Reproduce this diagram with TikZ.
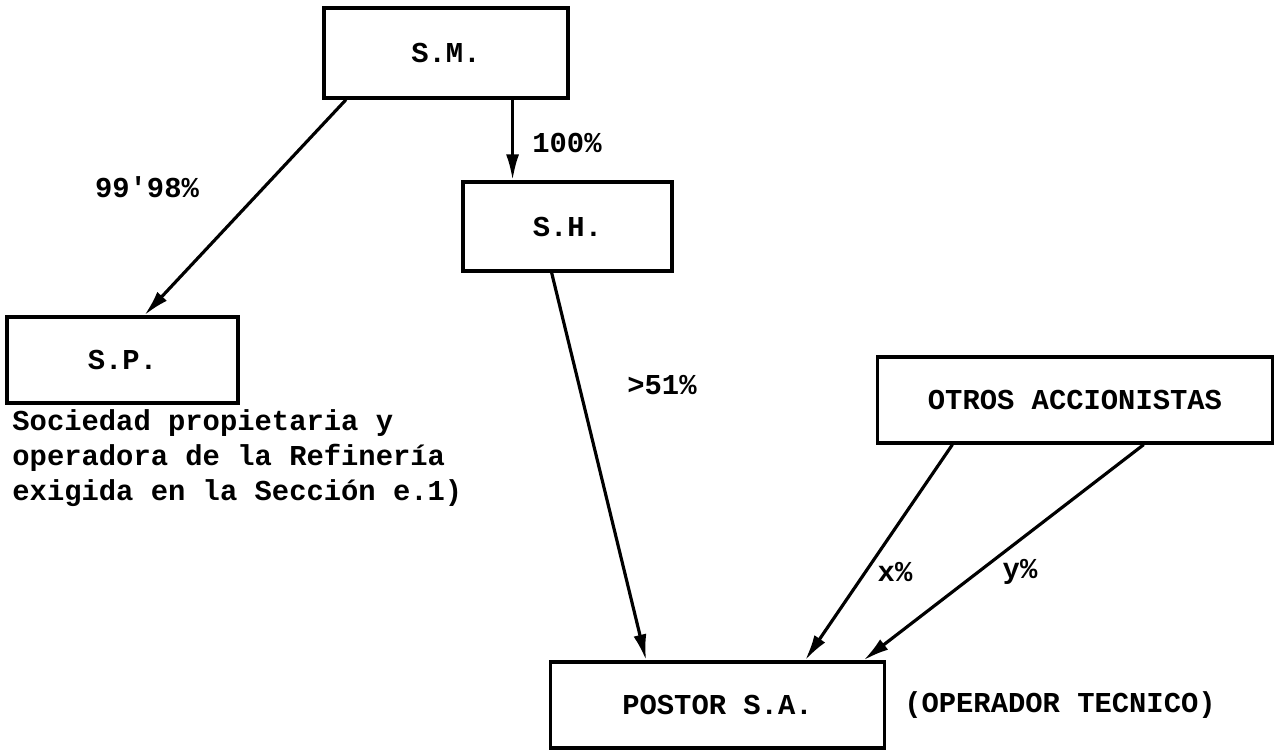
\documentclass[tikz,border=0pt]{standalone}
\usepackage{fontspec}
\setmainfont{Liberation Mono}
\usepackage{tikz}
\usetikzlibrary{arrows.meta}

\begin{document}
\begin{tikzpicture}[x=0.01cm, y=-0.01cm,
    font=\fontsize{8.2}{10}\selectfont\bfseries,
    box/.style={draw, line width=0.9pt, inner sep=0pt},
    link/.style={line width=0.9pt, -{Latex[length=2.6mm, width=1.3mm]}}]
    \useasboundingbox (0,0) rectangle (1278,750);

    % Companies
    \node[box, minimum width=2.44cm, minimum height=0.90cm] (sm) at (446, 53) {S.M.};
    \node[box, minimum width=2.09cm, minimum height=0.89cm] (sh) at (567.5, 226.5) {S.H.};
    \node[box, minimum width=2.31cm, minimum height=0.86cm] (sp) at (122.5, 360) {S.P.};
    \node[box, minimum width=3.94cm, minimum height=0.86cm] (otros) at (1075, 400) {OTROS ACCIONISTAS};
    \node[box, minimum width=3.33cm, minimum height=0.86cm] (postor) at (717.5, 705) {POSTOR S.A.};

    % Notes
    \node[anchor=west, align=left] (nota) at (0, 458) {Sociedad propietaria y\\operadora de la Refinería\\exigida en la Sección e.1)};
    \node (operador) at (1060, 705) {(OPERADOR TECNICO)};

    % Shareholdings
    \draw[link] (sm.205.1) -- (sp.64.5);
    \draw[link] (sm.325.7) -- (sm.325.7 |- sh.north);
    \draw[link] (sh.251.95) -- (postor.148.3);
    \draw[link] (otros.200.8) -- (postor.27.5);
    \draw[link] (otros.327.7) -- (postor.17.1);

    % Percentages
    \node (p1) at (147, 187) {99\textquotesingle 98\%};
    \node (p2) at (567, 143) {100\%};
    \node (p3) at (662, 385) {>51\%};
    \node (p4) at (895, 572) {x\%};
    \node (p5) at (1020, 572) {y\%};
\end{tikzpicture}
\end{document}
